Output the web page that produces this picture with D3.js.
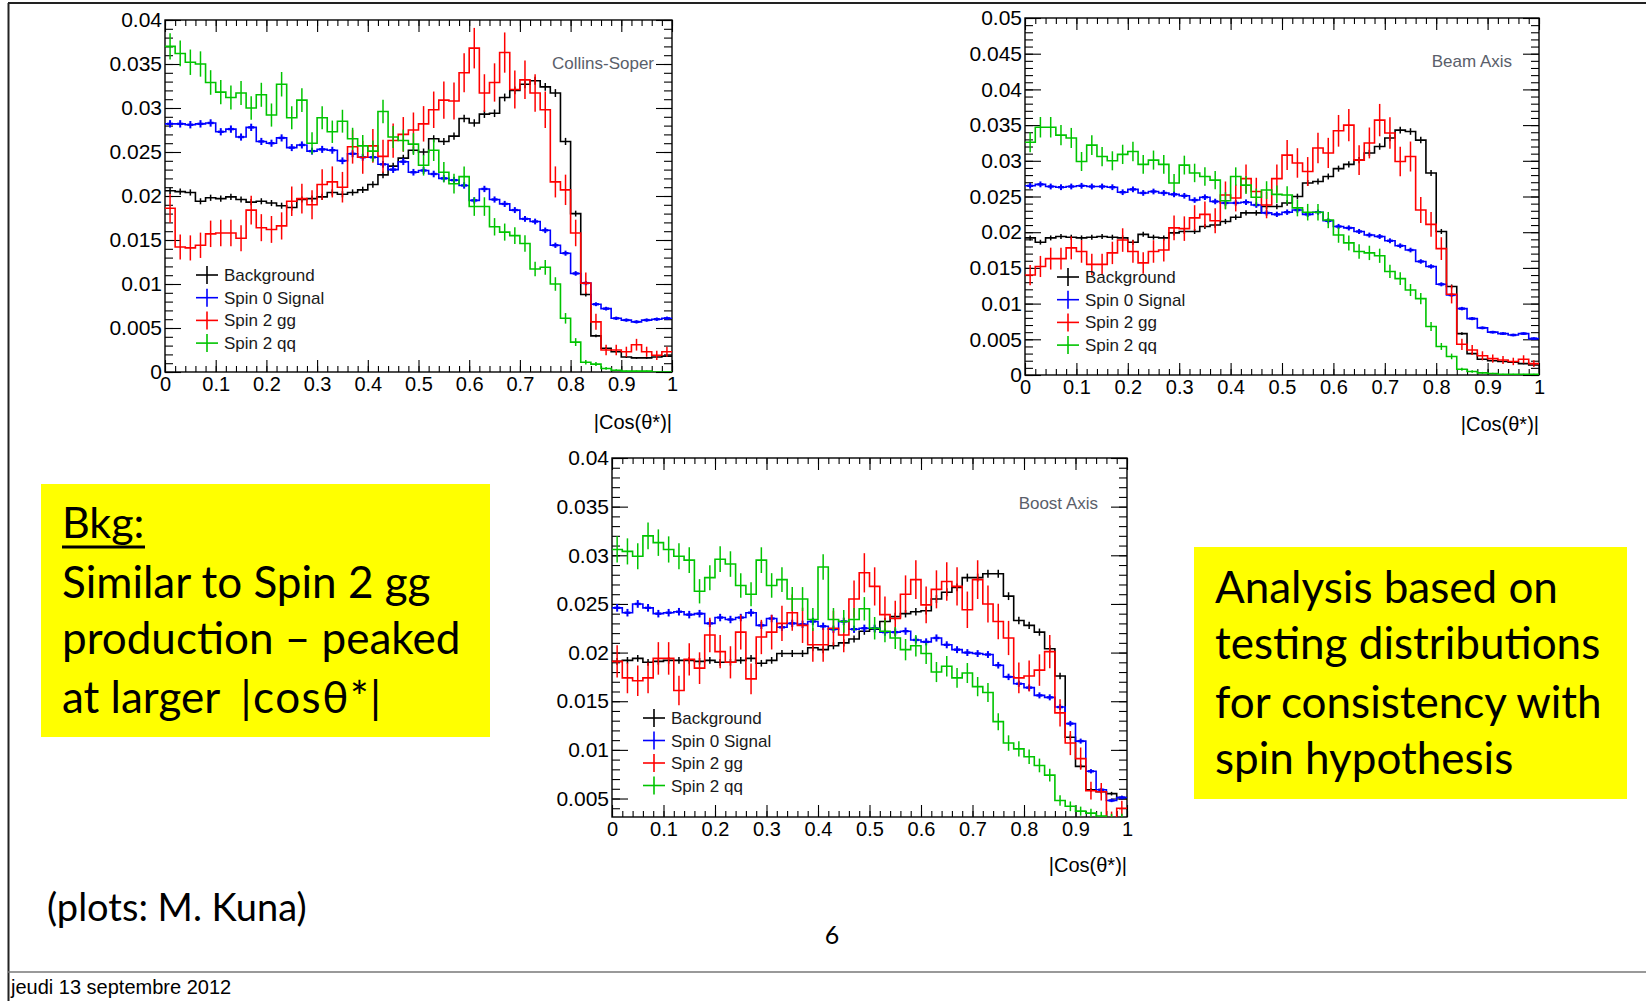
<!DOCTYPE html>
<html><head><meta charset="utf-8">
<script src="https://cdn.jsdelivr.net/npm/d3@7"></script>
<style>body{margin:0;background:#fff;} svg{display:block;}</style>
</head><body>
<svg id="c" width="1646" height="1001"></svg>
<script>
// ---------- data ----------
const nBins = 50, binWidth = 0.02;
const seriesNames = ["Background", "Spin 0 Signal", "Spin 2 gg", "Spin 2 qq"];
const seriesColors = ["#000000", "#0000ff", "#ff0000", "#00c400"];
const errScale = [0.0025, 0.0025, 0.012, 0.0077];

// Collins-Soper
const csBkg = [0.0206,0.0205,0.0204,0.0194,0.0198,0.0197,0.0199,0.0196,0.0193,0.0194,
  0.0192,0.0189,0.0187,0.0196,0.0197,0.0199,0.0204,0.0202,0.0204,0.0207,
  0.0213,0.0224,0.0234,0.0243,0.0252,0.0250,0.0265,0.0262,0.0268,0.0288,
  0.0283,0.0293,0.0294,0.0312,0.0320,0.0327,0.0331,0.0324,0.0317,0.0262,
  0.0180,0.0088,0.0041,0.0027,0.0023,0.0017,0.0016,0.0016,0.0017,0.0018];
const csSpin0 = [0.0282,0.0282,0.0281,0.0282,0.0283,0.0273,0.0276,0.0267,0.0278,0.0262,
  0.0260,0.0266,0.0255,0.0258,0.0251,0.0253,0.0252,0.0240,0.0248,0.0244,
  0.0244,0.0236,0.0230,0.0239,0.0227,0.0229,0.0225,0.0220,0.0218,0.0212,
  0.0195,0.0208,0.0196,0.0191,0.0184,0.0174,0.0171,0.0161,0.0144,0.0135,
  0.0112,0.0101,0.0077,0.0072,0.0061,0.0059,0.0057,0.0059,0.0060,0.0061];
const csGG = [0.0186,0.0142,0.0141,0.0144,0.0157,0.0158,0.0158,0.0152,0.0184,0.0164,
  0.0162,0.0166,0.0194,0.0197,0.0190,0.0213,0.0216,0.0210,0.0256,0.0244,
  0.0257,0.0245,0.0263,0.0270,0.0275,0.0282,0.0298,0.0309,0.0308,0.0340,
  0.0368,0.0317,0.0329,0.0363,0.0321,0.0332,0.0317,0.0298,0.0216,0.0207,
  0.0158,0.0101,0.0057,0.0025,0.0025,0.0023,0.0031,0.0023,0.0019,0.0023];
const csQQ = [0.0370,0.0362,0.0352,0.0350,0.0329,0.0318,0.0312,0.0317,0.0300,0.0315,
  0.0292,0.0327,0.0289,0.0309,0.0260,0.0289,0.0273,0.0285,0.0265,0.0257,
  0.0251,0.0296,0.0267,0.0263,0.0259,0.0235,0.0252,0.0227,0.0214,0.0222,
  0.0188,0.0188,0.0165,0.0159,0.0155,0.0146,0.0117,0.0119,0.0100,0.0061,
  0.0034,0.0011,0.0009,0.0004,0.0002,0.0001,0.0001,0.0001,0.0000,0.0000];

// Beam Axis
const beamBkg = [0.0192,0.0186,0.0192,0.0194,0.0193,0.0192,0.0193,0.0194,0.0193,0.0192,
  0.0186,0.0197,0.0193,0.0192,0.0199,0.0201,0.0201,0.0208,0.0210,0.0215,
  0.0221,0.0227,0.0227,0.0236,0.0236,0.0241,0.0250,0.0269,0.0271,0.0278,
  0.0289,0.0295,0.0301,0.0311,0.0320,0.0332,0.0343,0.0341,0.0329,0.0283,
  0.0201,0.0124,0.0058,0.0030,0.0022,0.0020,0.0019,0.0018,0.0016,0.0014];
const beamSpin0 = [0.0265,0.0267,0.0264,0.0263,0.0264,0.0265,0.0264,0.0264,0.0263,0.0256,
  0.0260,0.0255,0.0257,0.0255,0.0253,0.0251,0.0245,0.0249,0.0243,0.0241,
  0.0241,0.0242,0.0238,0.0227,0.0225,0.0228,0.0231,0.0225,0.0228,0.0216,
  0.0208,0.0206,0.0201,0.0196,0.0194,0.0188,0.0181,0.0175,0.0159,0.0152,
  0.0127,0.0112,0.0093,0.0079,0.0066,0.0060,0.0058,0.0056,0.0058,0.0051];
const beamGG = [0.0140,0.0152,0.0163,0.0163,0.0178,0.0173,0.0155,0.0155,0.0171,0.0189,
  0.0173,0.0157,0.0173,0.0175,0.0206,0.0205,0.0220,0.0225,0.0216,0.0252,
  0.0248,0.0275,0.0257,0.0238,0.0275,0.0308,0.0297,0.0285,0.0318,0.0311,
  0.0342,0.0350,0.0301,0.0325,0.0357,0.0339,0.0299,0.0306,0.0231,0.0211,
  0.0177,0.0113,0.0043,0.0035,0.0027,0.0023,0.0021,0.0019,0.0022,0.0016];
const beamQQ = [0.0326,0.0347,0.0347,0.0336,0.0332,0.0299,0.0322,0.0306,0.0300,0.0309,
  0.0313,0.0295,0.0301,0.0295,0.0269,0.0294,0.0283,0.0278,0.0273,0.0244,
  0.0278,0.0266,0.0249,0.0259,0.0253,0.0252,0.0234,0.0228,0.0228,0.0217,
  0.0196,0.0185,0.0173,0.0171,0.0167,0.0145,0.0135,0.0119,0.0107,0.0068,
  0.0040,0.0026,0.0008,0.0005,0.0003,0.0002,0.0001,0.0001,0.0001,0.0001];

// Boost Axis
const boostBkg = [0.0191,0.0192,0.0194,0.0190,0.0191,0.0192,0.0192,0.0192,0.0191,0.0192,
  0.0190,0.0190,0.0192,0.0194,0.0189,0.0192,0.0199,0.0199,0.0199,0.0205,
  0.0203,0.0207,0.0210,0.0214,0.0222,0.0224,0.0232,0.0237,0.0240,0.0242,
  0.0243,0.0255,0.0262,0.0267,0.0277,0.0277,0.0281,0.0281,0.0258,0.0233,
  0.0228,0.0221,0.0204,0.0176,0.0113,0.0083,0.0059,0.0057,0.0055,0.0051];
const boostSpin0 = [0.0246,0.0241,0.0250,0.0246,0.0240,0.0241,0.0242,0.0239,0.0240,0.0230,
  0.0236,0.0234,0.0236,0.0241,0.0228,0.0235,0.0226,0.0230,0.0229,0.0232,
  0.0227,0.0224,0.0232,0.0224,0.0225,0.0225,0.0221,0.0221,0.0222,0.0213,
  0.0211,0.0215,0.0208,0.0203,0.0200,0.0199,0.0198,0.0187,0.0175,0.0168,
  0.0164,0.0156,0.0154,0.0144,0.0127,0.0109,0.0078,0.0059,0.0048,0.0051];
const boostGG = [0.0191,0.0174,0.0171,0.0174,0.0194,0.0194,0.0161,0.0193,0.0184,0.0218,
  0.0201,0.0190,0.0221,0.0173,0.0216,0.0221,0.0230,0.0241,0.0228,0.0208,
  0.0208,0.0225,0.0218,0.0255,0.0282,0.0268,0.0239,0.0235,0.0260,0.0275,
  0.0249,0.0265,0.0273,0.0268,0.0244,0.0275,0.0250,0.0232,0.0215,0.0174,
  0.0176,0.0182,0.0201,0.0138,0.0107,0.0091,0.0058,0.0057,0.0030,0.0040];
const boostQQ = [0.0306,0.0304,0.0299,0.0320,0.0313,0.0306,0.0299,0.0295,0.0263,0.0277,
  0.0296,0.0291,0.0269,0.0260,0.0295,0.0269,0.0275,0.0255,0.0255,0.0234,
  0.0288,0.0234,0.0232,0.0234,0.0245,0.0225,0.0222,0.0215,0.0203,0.0207,
  0.0199,0.0180,0.0186,0.0174,0.0179,0.0165,0.0159,0.0129,0.0107,0.0101,
  0.0093,0.0084,0.0074,0.0048,0.0042,0.0037,0.0035,0.0032,0.0030,0.0030];

// tick labels
const xTicks = [0, 0.1, 0.2, 0.3, 0.4, 0.5, 0.6, 0.7, 0.8, 0.9, 1];
const yTicksCS = [0, 0.005, 0.01, 0.015, 0.02, 0.025, 0.03, 0.035, 0.04];
const yTicksBeam = [0, 0.005, 0.01, 0.015, 0.02, 0.025, 0.03, 0.035, 0.04, 0.045, 0.05];
const yTicksBoost = [0.005, 0.01, 0.015, 0.02, 0.025, 0.03, 0.035, 0.04];
const panelTitles = ["Collins-Soper", "Beam Axis", "Boost Axis"];
const axisTitle = "|Cos(\u03b8*)|";

// ---------- layout ----------
const panels = [
  {title: panelTitles[0], data: [csBkg, csSpin0, csGG, csQQ], yTicks: yTicksCS, ymin: 0, ymax: 0.04,
   x0: 165, x1: 672, y0: 20, y1: 372, legX: 196, legY: 275, legDy: 22.7, titleR: 654, titleY: 69, axTitleY: 429},
  {title: panelTitles[1], data: [beamBkg, beamSpin0, beamGG, beamQQ], yTicks: yTicksBeam, ymin: 0, ymax: 0.05,
   x0: 1025, x1: 1539, y0: 18, y1: 375, legX: 1057, legY: 277, legDy: 22.7, titleR: 1512, titleY: 67, axTitleY: 431},
  {title: panelTitles[2], data: [boostBkg, boostSpin0, boostGG, boostQQ], yTicks: yTicksBoost, ymin: 0.0031, ymax: 0.04,
   x0: 612, x1: 1127, y0: 458, y1: 817, legX: 643, legY: 718, legDy: 22.5, titleR: 1098, titleY: 509, axTitleY: 872}
];

const svg = d3.select("#c");
const FONT = "'Liberation Sans', Arial, Helvetica, sans-serif";
const defs = svg.append("defs");

function styleAxis(sel, fs) {
  sel.select(".domain").remove();
  sel.attr("font-family", FONT).attr("font-size", fs).attr("color", "#000");
  sel.selectAll("line").attr("stroke-width", 1.1);
  sel.selectAll("text").attr("fill", "#000");
}

panels.forEach((p, pi) => {
  const x = d3.scaleLinear().domain([0, 1]).range([p.x0, p.x1]);
  const y = d3.scaleLinear().domain([p.ymin, p.ymax]).range([p.y1, p.y0]);
  const g = svg.append("g");
  const cid = "clip" + pi;
  defs.append("clipPath").attr("id", cid).append("rect")
    .attr("x", p.x0).attr("y", p.y0).attr("width", p.x1 - p.x0).attr("height", p.y1 - p.y0);

  const minorY = d3.range(Math.ceil(p.ymin * 1000 - 1e-9), Math.floor(p.ymax * 1000 + 1e-9) + 1).map(k => k / 1000);
  const minorX = d3.range(0, nBins + 1).map(k => k * binWidth);
  const fmt = d3.format("~g");

  // minor ticks
  g.append("g").attr("transform", `translate(${p.x0},0)`)
    .call(d3.axisLeft(y).tickValues(minorY).tickSize(-8).tickFormat("")).call(s => styleAxis(s, 21));
  g.append("g").attr("transform", `translate(${p.x1},0)`)
    .call(d3.axisRight(y).tickValues(minorY).tickSize(-8).tickFormat("")).call(s => styleAxis(s, 21));
  g.append("g").attr("transform", `translate(0,${p.y1})`)
    .call(d3.axisBottom(x).tickValues(minorX).tickSize(-6).tickFormat("")).call(s => styleAxis(s, 21));
  g.append("g").attr("transform", `translate(0,${p.y0})`)
    .call(d3.axisTop(x).tickValues(minorX).tickSize(-6).tickFormat("")).call(s => styleAxis(s, 21));
  // major ticks + labels
  g.append("g").attr("transform", `translate(${p.x0},0)`)
    .call(d3.axisLeft(y).tickValues(p.yTicks).tickSizeInner(-16).tickSizeOuter(0).tickPadding(3).tickFormat(fmt))
    .call(s => styleAxis(s, 21));
  g.append("g").attr("transform", `translate(${p.x1},0)`)
    .call(d3.axisRight(y).tickValues(p.yTicks).tickSize(-16).tickFormat("")).call(s => styleAxis(s, 21));
  g.append("g").attr("transform", `translate(0,${p.y1})`)
    .call(d3.axisBottom(x).tickValues(xTicks).tickSizeInner(-12).tickSizeOuter(0).tickPadding(5).tickFormat(fmt))
    .call(s => styleAxis(s, 20));
  g.append("g").attr("transform", `translate(0,${p.y0})`)
    .call(d3.axisTop(x).tickValues(xTicks).tickSize(-12).tickFormat("")).call(s => styleAxis(s, 20));

  // frame
  g.append("rect").attr("x", p.x0).attr("y", p.y0).attr("width", p.x1 - p.x0).attr("height", p.y1 - p.y0)
    .attr("fill", "none").attr("stroke", "#000").attr("stroke-width", 1.4);

  // histograms
  const hg = g.append("g").attr("clip-path", `url(#${cid})`);
  const line = d3.line().x(d => x(d[0])).y(d => y(d[1])).curve(d3.curveStepAfter);
  p.data.forEach((vals, si) => {
    const col = seriesColors[si];
    const pts = vals.map((v, k) => [k * binWidth, v]).concat([[1, vals[vals.length - 1]]]);
    hg.append("path").attr("d", line(pts)).attr("fill", "none").attr("stroke", col).attr("stroke-width", 1.6);
    vals.forEach((v, k) => {
      const cx = x((k + 0.5) * binWidth);
      const e = errScale[si] * Math.sqrt(Math.max(v, 0));
      if (v <= 0) return;
      hg.append("line").attr("x1", cx).attr("x2", cx).attr("y1", y(v - e)).attr("y2", y(v + e))
        .attr("stroke", col).attr("stroke-width", si === 1 ? 2 : 1.5);
      if (si === 1) {
        hg.append("line").attr("x1", cx - 3).attr("x2", cx + 3).attr("y1", y(v)).attr("y2", y(v))
          .attr("stroke", col).attr("stroke-width", 2.4);
      }
    });
  });

  // legend
  seriesNames.forEach((nm, si) => {
    const yy = p.legY + si * p.legDy;
    g.append("line").attr("x1", p.legX).attr("x2", p.legX + 22).attr("y1", yy).attr("y2", yy)
      .attr("stroke", seriesColors[si]).attr("stroke-width", 1.6);
    g.append("line").attr("x1", p.legX + 11).attr("x2", p.legX + 11).attr("y1", yy - 9).attr("y2", yy + 9)
      .attr("stroke", seriesColors[si]).attr("stroke-width", 1.6);
    g.append("text").attr("x", p.legX + 28).attr("y", yy + 6).text(nm)
      .attr("font-family", FONT).attr("font-size", 17).attr("fill", "#1a1a1a");
  });

  // panel title
  g.append("text").attr("x", p.titleR).attr("y", p.titleY).attr("text-anchor", "end").text(p.title)
    .attr("font-family", FONT).attr("font-size", 17).attr("fill", "#5a5e6a");
  // axis title
  g.append("text").attr("x", p.x1).attr("y", p.axTitleY).attr("text-anchor", "end").text(axisTitle)
    .attr("font-family", FONT).attr("font-size", 20).attr("fill", "#000");
});

// ---------- slide decorations ----------
svg.append("line").attr("x1", 8).attr("x2", 1646).attr("y1", 3).attr("y2", 3).attr("stroke", "#222").attr("stroke-width", 2);
svg.append("line").attr("x1", 8.5).attr("x2", 8.5).attr("y1", 3).attr("y2", 1001).attr("stroke", "#222").attr("stroke-width", 2);
svg.append("line").attr("x1", 8).attr("x2", 1646).attr("y1", 972).attr("y2", 972).attr("stroke", "#777").attr("stroke-width", 1.5);
svg.append("text").attr("x", 11).attr("y", 994).text("jeudi 13 septembre 2012")
  .attr("font-family", FONT).attr("font-size", 20).attr("fill", "#000");
svg.append("text").attr("x", 832).attr("y", 944).attr("text-anchor", "middle").text("6")
  .attr("font-family", "Lato, 'Open Sans', sans-serif").attr("font-size", 25).attr("fill", "#000");

const BOX = "Lato, 'Open Sans', sans-serif";
const leftLines = ["Similar to Spin 2 gg", "production \u2013 peaked"];
const leftLast = ["at larger ", "|cos\u03b8*|"];
const rightLines = ["Analysis based on", "testing distributions", "for consistency with", "spin hypothesis"];

svg.append("rect").attr("x", 41).attr("y", 484).attr("width", 449).attr("height", 253).attr("fill", "#ffff00");
svg.append("text").attr("x", 62).attr("y", 538).text("Bkg:").attr("font-family", BOX).attr("font-size", 43).attr("fill", "#000");
svg.append("line").attr("x1", 62).attr("x2", 145).attr("y1", 547).attr("y2", 547).attr("stroke", "#000").attr("stroke-width", 3);
leftLines.forEach((t, i) => {
  svg.append("text").attr("x", 62).attr("y", [598, 654][i]).text(t)
    .attr("font-family", BOX).attr("font-size", 44).attr("fill", "#000");
});
const last = svg.append("text").attr("x", 62).attr("y", 713)
  .attr("font-family", BOX).attr("font-size", 44).attr("fill", "#000");
last.append("tspan").text(leftLast[0]);
last.append("tspan").attr("dx", 10).attr("letter-spacing", 1.5).text(leftLast[1]);

svg.append("rect").attr("x", 1194).attr("y", 547).attr("width", 433).attr("height", 252).attr("fill", "#ffff00");
rightLines.forEach((t, i) => {
  svg.append("text").attr("x", 1215).attr("y", [603, 659, 718, 774][i]).text(t)
    .attr("font-family", BOX).attr("font-size", 44).attr("fill", "#000");
});

svg.append("text").attr("x", 47).attr("y", 921).text("(plots: M. Kuna)")
  .attr("font-family", BOX).attr("font-size", 38).attr("fill", "#000");
</script>
</body></html>
